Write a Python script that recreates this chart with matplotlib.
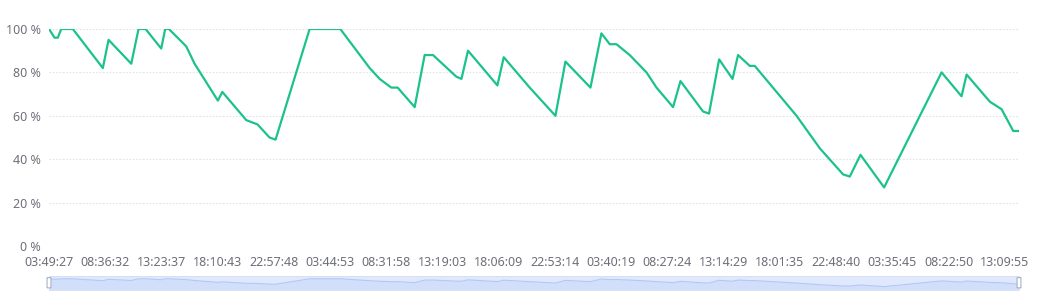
import matplotlib
matplotlib.use("Agg")
import matplotlib.pyplot as plt
from matplotlib.patches import FancyBboxPatch

# battery level, hours after 03:49:27 on day 1
hours = [0, 0.47, 0.75, 1.04, 2.03, 4.58, 5.07, 7.00, 7.62, 8.22, 9.55, 9.89, 10.20,
         11.68, 12.39, 13.67, 14.37, 14.75, 16.79, 17.75, 18.77, 19.28, 22.18, 24.79,
         27.29, 28.14, 29.13, 29.67, 31.12, 31.97, 32.68, 34.67, 35.10, 35.66, 38.16,
         38.70, 40.91, 43.10, 43.95, 46.08, 47.01, 47.72, 48.29, 49.42, 50.85, 51.70,
         53.11, 53.74, 55.66, 56.17, 57.03, 58.17, 58.64, 59.64, 60.06, 63.62, 65.60,
         67.58, 68.15, 69.06, 71.07, 75.96, 77.66, 78.09, 80.07, 81.07, 82.06, 82.48]
level = [100, 96, 96, 100, 100, 82, 95, 84, 100, 100, 91, 100, 100,
         92, 84, 73, 67, 71, 58, 56, 50, 49, 100, 100,
         82, 77, 73, 73, 64, 88, 88, 78, 77, 90, 74,
         87, 73, 60, 85, 73, 98, 93, 93, 88, 80, 73,
         64, 76, 62, 61, 86, 77, 88, 83, 83, 60, 45,
         33, 32, 42, 27, 80, 69, 79, 66.5, 63, 53, 53]

tick_labels = ["03:49:27", "08:36:32", "13:23:37", "18:10:43", "22:57:48", "03:44:53",
               "08:31:58", "13:19:03", "18:06:09", "22:53:14", "03:40:19", "08:27:24",
               "13:14:29", "18:01:35", "22:48:40", "03:35:45", "08:22:50", "13:09:55"]
label_step = (4 * 3600 + 47 * 60 + 5.3) / 3600.0
x_end = 82.55

plt.rcParams['font.family'] = ['Noto Sans', 'DejaVu Sans']
green = '#1cc28d'
grey = '#6e7079'

fig = plt.figure(figsize=(10.5, 2.91), dpi=100)
ax = fig.add_axes([49 / 1050, 1 - 246 / 291, 970 / 1050, 217 / 291])
ax.plot(hours, level, color=green, lw=1.6, solid_joinstyle='round')
ax.set_xlim(0, x_end)
ax.set_ylim(0, 100)
ax.set_yticks(range(0, 101, 20))
ax.set_yticklabels([f"{v} %" for v in range(0, 101, 20)])
ax.set_xticks([i * label_step for i in range(len(tick_labels))])
ax.set_xticklabels(tick_labels)
ax.tick_params(length=0, colors=grey, labelsize=9)
ax.tick_params(axis='y', pad=6)
ax.tick_params(axis='x', pad=7)
ax.grid(axis='y', color='#e0e3e8', lw=0.8, linestyle=(0, (1.5, 1.5)))
for s in ax.spines.values():
    s.set_visible(False)
ax.set_axisbelow(True)

# data zoom slider
sl = fig.add_axes([49 / 1050, 1 - 289.5 / 291, 970 / 1050, 13.5 / 291])
sl.set_facecolor('#dfe8fd')
sl.plot(hours, level, color='#b4c8f4', lw=0.8)
sl.fill_between(hours, level, 0, color='#d2dffb', lw=0)
sl.set_xlim(0, x_end)
sl.set_ylim(0, 126)
sl.set_xticks([])
sl.set_yticks([])
for s in sl.spines.values():
    s.set_color('#d6def0')
    s.set_linewidth(0.6)
for hx in (0, 1):
    sl.add_patch(FancyBboxPatch((hx - 0.002, 0.12), 0.004, 0.76,
                                boxstyle='round,pad=0,rounding_size=0.002',
                                transform=sl.transAxes, clip_on=False,
                                facecolor='white', edgecolor='#a8b3c8', lw=0.8, zorder=5))

fig.savefig('out.png', dpi=100)
